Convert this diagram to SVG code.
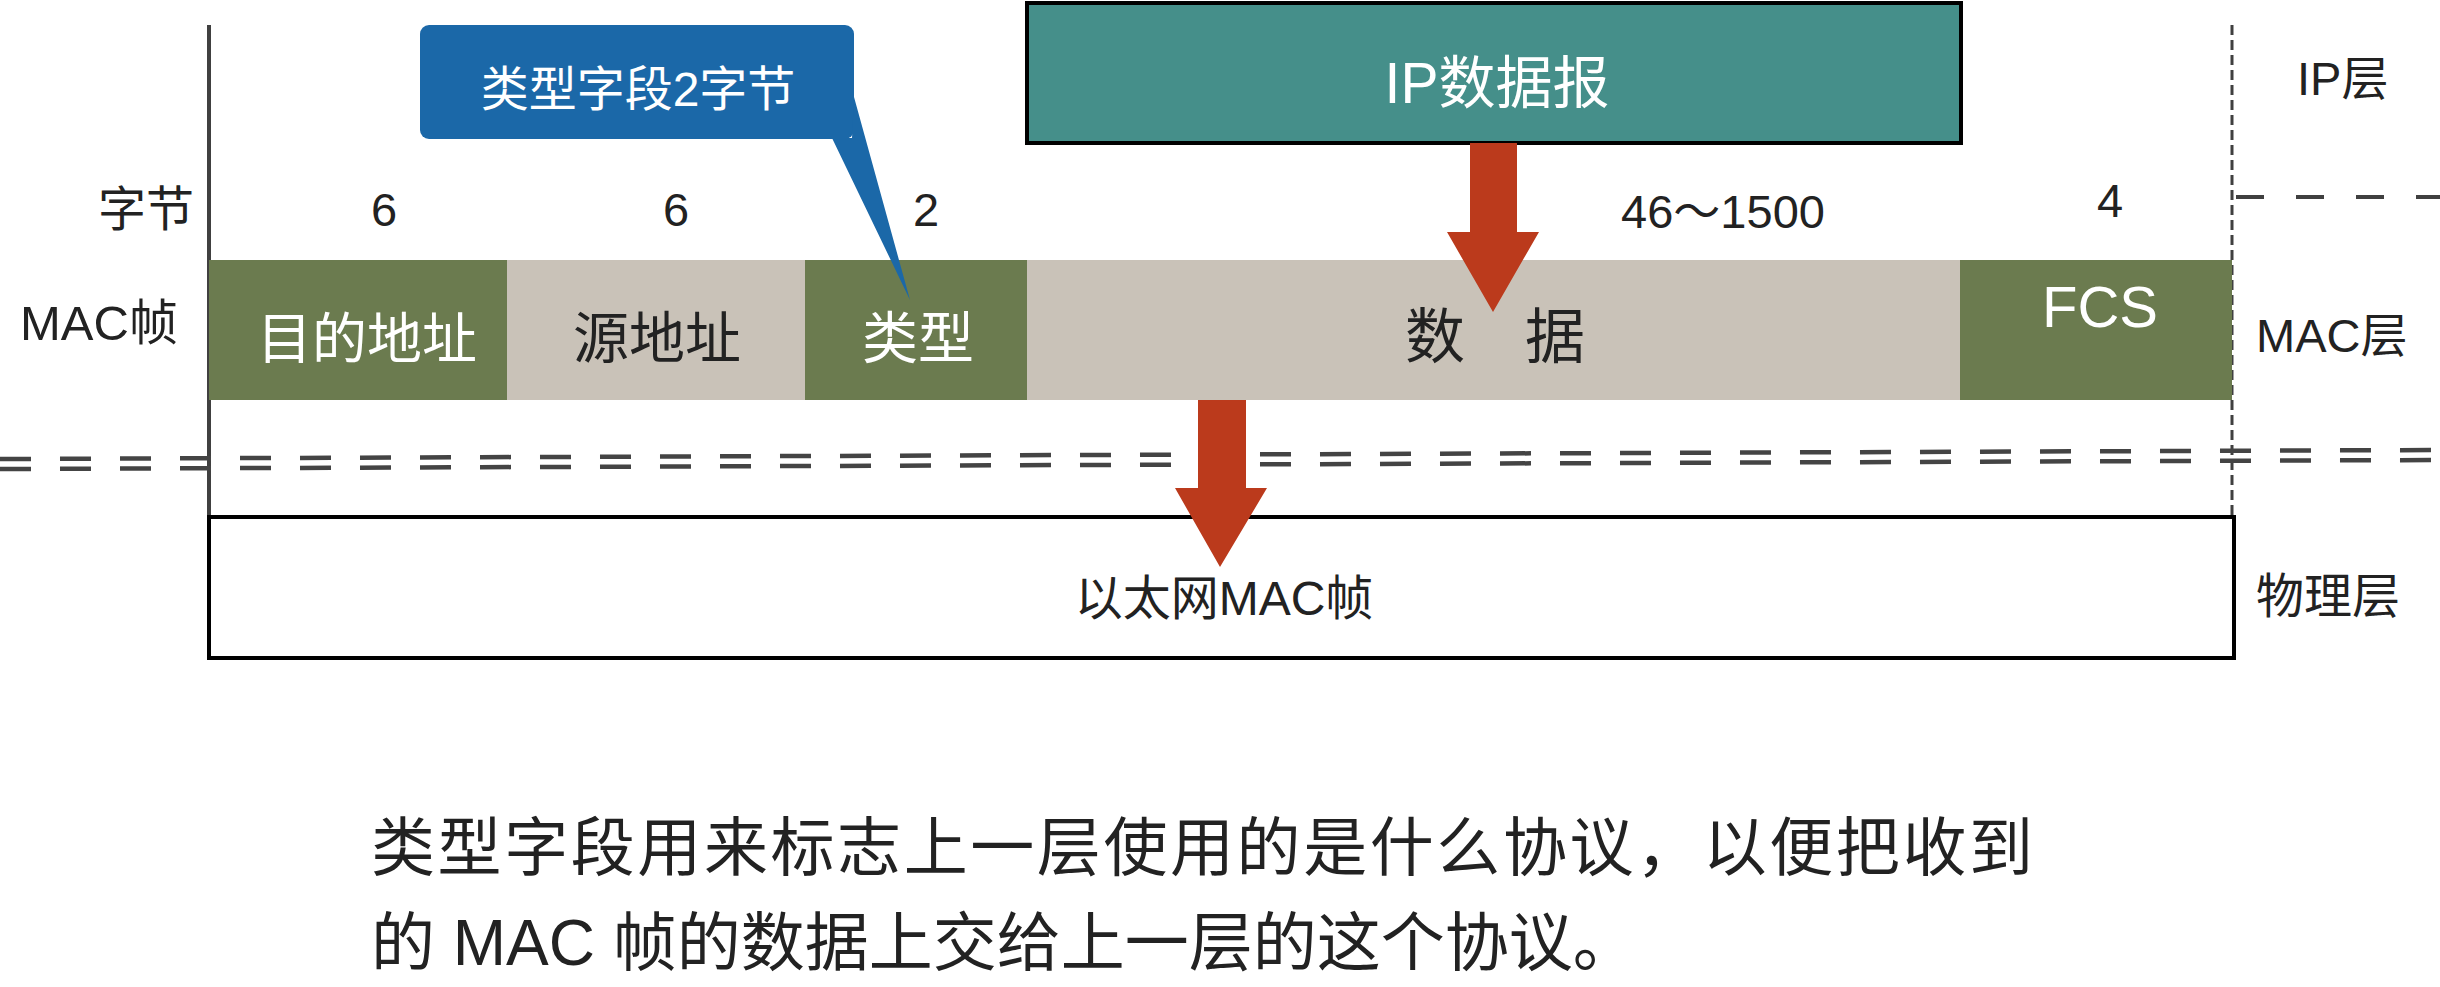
<svg xmlns="http://www.w3.org/2000/svg" width="2440" height="987" viewBox="0 0 2440 987">
<style>
text{font-family:"Liberation Sans","Noto Sans CJK SC",sans-serif;fill:#222}
.w{fill:#fff}
.c{text-anchor:middle}
.green{fill:#6B7B4F}
.beige{fill:#C9C2B8}
.red{fill:#BB3A1C}
.dash2{stroke:#444;stroke-width:4.5;stroke-dasharray:31 29;fill:none}
</style>
<rect width="2440" height="987" fill="#fff"/>
<g id="frame">
<line x1="209" y1="25" x2="209" y2="528" stroke="#404040" stroke-width="4"/>
<line x1="2232" y1="25" x2="2232" y2="520" stroke="#404040" stroke-width="3" stroke-dasharray="10 5"/>
<line x1="2236" y1="197" x2="2440" y2="197" stroke="#404040" stroke-width="4" stroke-dasharray="28 32"/>
<line x1="0" y1="459" x2="2440" y2="450" class="dash2"/>
<line x1="0" y1="469" x2="2440" y2="460" class="dash2"/>
</g>
<g id="labels">
<text x="194" y="226" font-size="48" text-anchor="end">字节</text>
<text x="20" y="340" font-size="49">MAC帧</text>
<text x="384" y="226" font-size="47" class="c">6</text>
<text x="676" y="226" font-size="47" class="c">6</text>
<text x="926" y="226" font-size="47" class="c">2</text>
<text x="1723" y="228" font-size="47" class="c">46～1500</text>
<text x="2110" y="217" font-size="47" class="c">4</text>
<text x="2297" y="95" font-size="47">IP层</text>
<text x="2256" y="352" font-size="47">MAC层</text>
<text x="2256" y="613" font-size="48">物理层</text>
</g>
<g id="ip-datagram">
<rect x="1027" y="3" width="934" height="140" fill="#458F8A" stroke="#000" stroke-width="4"/>
<text x="1497" y="103" font-size="57" class="c w">IP数据报</text>
</g>
<g id="field-dst">
<rect x="209" y="260" width="298" height="140" class="green"/>
<text x="367" y="358" font-size="55" class="c w">目的地址</text>
</g>
<g id="field-src">
<rect x="507" y="260" width="298" height="140" class="beige"/>
<text x="657" y="358" font-size="56" class="c">源地址</text>
</g>
<g id="field-type">
<rect x="805" y="260" width="222" height="140" class="green"/>
<text x="918" y="358" font-size="56" class="c w">类型</text>
</g>
<g id="field-data">
<rect x="1027" y="260" width="933" height="140" class="beige"/>
<text x="1495" y="358" font-size="60" class="c">数　据</text>
</g>
<g id="field-fcs">
<rect x="1960" y="260" width="272" height="140" class="green"/>
<text x="2100" y="327" font-size="58" class="c w">FCS</text>
</g>
<g id="physical-frame">
<rect x="209" y="517" width="2025" height="141" fill="none" stroke="#000" stroke-width="4"/>
<text x="1224" y="615" font-size="48" class="c">以太网MAC帧</text>
</g>
<g id="callout">
<rect x="420" y="25" width="434" height="114" rx="9" fill="#1B68A8"/>
<polygon points="832,138 910,300 854,97 852,138" fill="#1B68A8"/>
<text x="638" y="106" font-size="48" class="c w">类型字段2字节</text>
</g>
<g id="connectors">
<polygon class="red" points="1470,143 1517,143 1517,232 1539,232 1493,312 1447,232 1470,232"/>
<polygon class="red" points="1198,400 1246,400 1246,488 1267,488 1220,567 1175,488 1198,488"/>
</g>
<g id="caption">
<text x="371" y="870" font-size="64" textLength="1662" lengthAdjust="spacing">类型字段用来标志上一层使用的是什么协议，以便把收到</text>
<text x="371" y="965" font-size="64">的 MAC 帧的数据上交给上一层的这个协议。</text>
</g>
</svg>
